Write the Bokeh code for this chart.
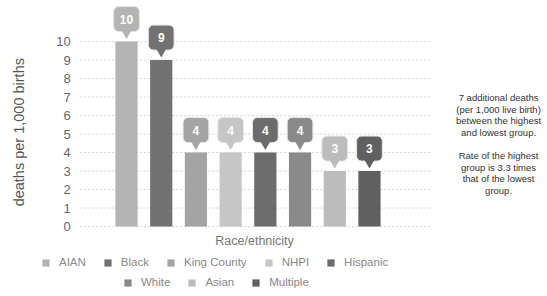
import math
from bokeh.plotting import figure
from bokeh.models import Range1d, Legend, LegendItem, Label, ColumnDataSource
from bokeh.embed import file_html
from bokeh.resources import INLINE
from bokeh.core.properties import value

# ---- data ----
groups = ["AIAN", "Black", "King County", "NHPI", "Hispanic", "White", "Asian", "Multiple"]
rates = [10, 9, 4, 4, 4, 4, 3, 3]
colors = ["#b4b4b4", "#727272", "#a4a4a4", "#c6c6c6", "#6c6c6c", "#8a8a8a", "#bcbcbc", "#606060"]
y_ticks = [0, 1, 2, 3, 4, 5, 6, 7, 8, 9, 10]
y_tick_labels = [str(t) for t in y_ticks]
legend_row1 = ["AIAN", "Black", "King County", "NHPI", "Hispanic"]
legend_row2 = ["White", "Asian", "Multiple"]
note_lines = ["7 additional deaths", "(per 1,000 live birth)", "between the highest", "and lowest group.",
              "", "Rate of the highest", "group is 3.3 times", "that of the lowest", "group."]
y_title = "deaths per 1,000 births"
x_title = "Race/ethnicity"

# ---- layout / style constants ----
X_START, X_END = -3.631, 12.13
Y_START, Y_END = -3.35, 12.22
GRID_X0, GRID_X1 = -1.33, 8.82
TICK_LABEL_X = -1.61
Y_TITLE_POS = (-3.09, 5.1)
X_TITLE_POS = (3.69, -0.76)
NOTE_POS = (10.72, 4.46)
TIP = 0.48
BOX_LO = 0.54
BOX_H = 1.35

xs = list(range(len(groups)))
src = ColumnDataSource(dict(
    x=xs, rate=rates, color=colors, label=[str(r) for r in rates],
    tip=[r + TIP for r in rates],
    box_bottom=[r + BOX_LO for r in rates],
    box_top=[r + BOX_LO + BOX_H for r in rates],
    box_mid=[r + BOX_LO + BOX_H / 2 for r in rates],
))
grid_src = ColumnDataSource(dict(y=y_ticks, label=y_tick_labels,
                                 x0=[GRID_X0] * len(y_ticks), x1=[GRID_X1] * len(y_ticks),
                                 xl=[TICK_LABEL_X] * len(y_ticks)))

FONT = "Liberation Sans"

p = figure(width=547, height=288, output_backend="svg", toolbar_location=None,
           x_range=Range1d(X_START, X_END), y_range=Range1d(Y_START, Y_END),
           x_axis_location=None, y_axis_location=None,
           min_border=0)
p.outline_line_color = None
p.background_fill_color = "white"
p.grid.visible = False

# grid lines and tick labels
p.segment(x0="x0", x1="x1", y0="y", y1="y", line_color="#d4d4d4", line_dash="2 2",
          line_width=1, source=grid_src)
p.text(x="xl", y="y", text="label", text_font=value(FONT), text_font_size="13px",
       text_color="#666666", text_align="right", text_baseline="middle", source=grid_src)

bars = p.vbar(x="x", top="rate", bottom=0, width=0.64, fill_color="color", line_color=None, source=src)

# callouts
p.vbar(x="x", top="box_top", bottom="box_bottom", width=0.74, fill_color="color",
       line_color="#e6e6e6", line_width=1, border_radius=5, source=src)
p.scatter(x="x", y="tip", marker="inverted_triangle", size=11, fill_color="color",
          line_color=None, source=src)
p.text(x="x", y="box_mid", text="label", text_color="white", text_font=value(FONT),
       text_font_size="12px", text_font_style="bold", text_align="center",
       text_baseline="middle", source=src)

# titles
p.add_layout(Label(x=Y_TITLE_POS[0], y=Y_TITLE_POS[1], text=y_title, angle=math.pi / 2,
                   text_align="center", text_baseline="middle", text_font=FONT,
                   text_font_size="14.5px", text_color="#555555"))
p.add_layout(Label(x=X_TITLE_POS[0], y=X_TITLE_POS[1], text=x_title,
                   text_align="center", text_baseline="middle", text_font=FONT,
                   text_font_size="12.5px", text_color="#777777"))


def make_legend(names, loc):
    items = [LegendItem(label=n, renderers=[bars], index=groups.index(n)) for n in names]
    return Legend(items=items, orientation="horizontal", location=loc,
                  label_text_font=FONT, label_text_font_size="11.5px", label_text_color="#888888",
                  glyph_width=9, glyph_height=9, label_standoff=9, spacing=17,
                  padding=2, margin=0, border_line_color=None, background_fill_alpha=0,
                  label_height=12)


p.add_layout(make_legend(legend_row1, (41, 20)))
p.add_layout(make_legend(legend_row2, (123, 0)))

p.add_layout(Label(x=NOTE_POS[0], y=NOTE_POS[1], text="\n".join(note_lines), text_align="center",
                   text_baseline="middle", text_font=FONT, text_font_size="9.5px",
                   text_color="#333333", text_line_height=1.05))

open("out.html", "w").write(file_html(p, INLINE))
